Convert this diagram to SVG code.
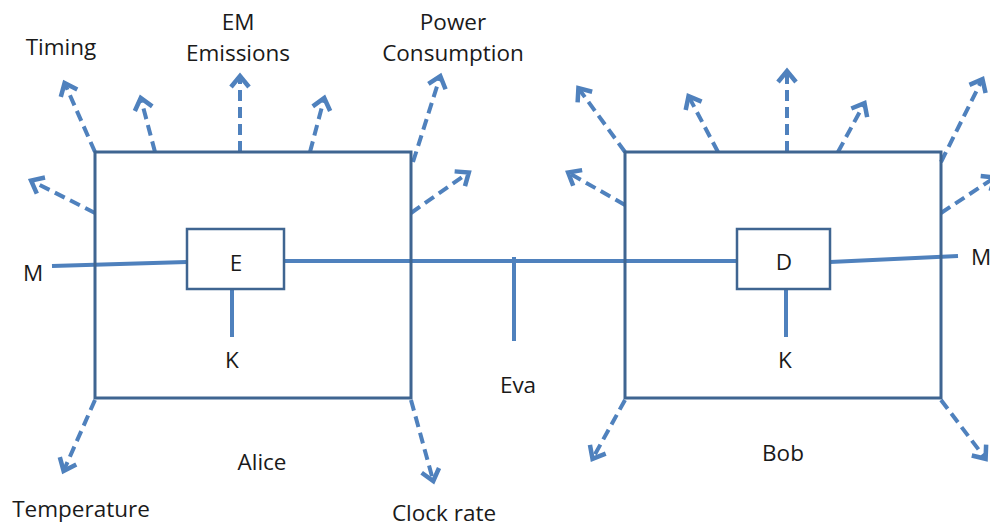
<svg xmlns="http://www.w3.org/2000/svg" width="990" height="529" viewBox="0 0 990 529">
<defs>
<marker id="ah" markerUnits="userSpaceOnUse" markerWidth="30" markerHeight="30" viewBox="-15 -15 30 30" refX="0" refY="0" orient="auto">
<path d="M-10,-9 L1,0 L-10,9" fill="none" stroke="#4f81bd" stroke-width="4.5" stroke-linejoin="miter"/>
</marker>
</defs>
<style>
.box{fill:none;stroke:#3f6591;stroke-width:3}
.ibox{fill:#fff;stroke:#3f6591;stroke-width:2.5}
.ln{stroke:#4f81bd;stroke-width:4;fill:none}
.ar{stroke:#4f81bd;stroke-width:4;fill:none;stroke-dasharray:11 6;marker-end:url(#ah)}
text{font-family:"Open Sans","Liberation Sans",sans-serif;font-size:22.5px;fill:#1a1a1a;text-anchor:middle}
</style>
<rect width="990" height="529" fill="#fff"/>
<g id="connectors">
<path class="ln" d="M52,266 L187,262"/>
<path class="ln" d="M284,261 L737,261"/>
<path class="ln" d="M514,257 L514,341"/>
<path class="ln" d="M232,289 L232,337"/>
<path class="ln" d="M786,289 L786,337"/>
<path class="ln" d="M830,262 L958,256"/>
<path class="ar" d="M95,152 L65,84"/>
<path class="ar" d="M155,152 L141,99"/>
<path class="ar" d="M240,152 L240,77"/>
<path class="ar" d="M310,152 L324,99"/>
<path class="ar" d="M413,162 L440,77"/>
<path class="ar" d="M95,213 L32,181"/>
<path class="ar" d="M411,213 L468,173"/>
<path class="ar" d="M95,400 L64,470"/>
<path class="ar" d="M411,400 L433,480"/>
<path class="ar" d="M625,152 L579,89"/>
<path class="ar" d="M718,152 L689,97"/>
<path class="ar" d="M787,152 L787,72"/>
<path class="ar" d="M838,152 L864,104"/>
<path class="ar" d="M941,162 L982,80"/>
<path class="ar" d="M625,205 L569,173"/>
<path class="ar" d="M941,213 L994,178"/>
<path class="ar" d="M625,400 L593,458"/>
<path class="ar" d="M941,400 L985,458"/>
</g>
<g id="alice">
<rect class="box" x="95" y="152" width="316" height="246"/>
<text x="262" y="470">Alice</text>
</g>
<g id="bob">
<rect class="box" x="625" y="152" width="316" height="246"/>
<text x="783" y="461">Bob</text>
</g>
<g id="encoder">
<rect class="ibox" x="187" y="229" width="97" height="60"/>
<text x="236" y="271">E</text>
</g>
<g id="decoder">
<rect class="ibox" x="737" y="229" width="93" height="60"/>
<text x="784" y="270">D</text>
</g>
<g id="labels">
<text x="33" y="281">M</text>
<text x="971" y="265" style="text-anchor:start">M</text>
<text x="232" y="368">K</text>
<text x="785" y="368">K</text>
<text x="518" y="393">Eva</text>
<text x="61" y="55">Timing</text>
<text x="238" y="30">EM</text>
<text x="238" y="61">Emissions</text>
<text x="453" y="30">Power</text>
<text x="453" y="61">Consumption</text>
<text x="81" y="517">Temperature</text>
<text x="444" y="521">Clock rate</text>
</g>
</svg>
